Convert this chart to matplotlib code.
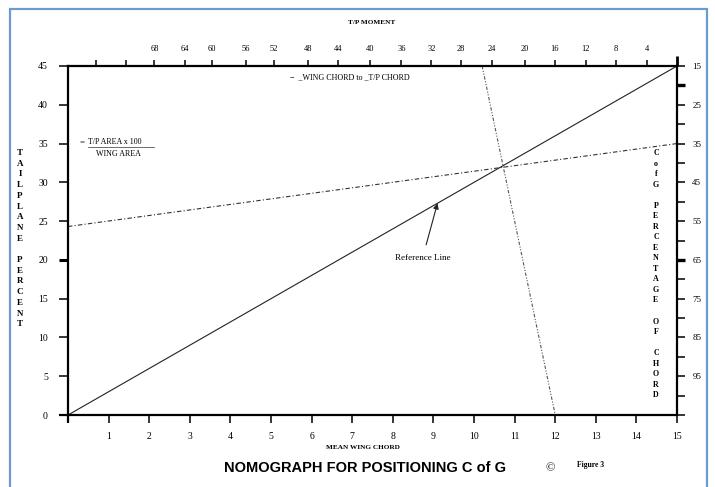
import matplotlib.pyplot as plt
from matplotlib.patches import Rectangle

# chart values
x_ticks = list(range(0, 16))
x_labels = [''] + [str(i) for i in range(1, 16)]
y_ticks = list(range(0, 50, 5))
ref_x = [0, 15]
ref_y = [0, 45]
area_x = [0, 15]
area_y = [24.3, 35.0]
moment_x = [10.2, 12.0]
moment_y = [45, 0]
top_pos = [0.69, 1.42, 2.13, 2.89, 3.55, 4.39, 5.07, 5.91, 6.64, 7.43, 8.21,
           8.95, 9.68, 10.44, 11.25, 11.99, 12.75, 13.50, 14.26, 15.0]
top_labels = ['', '', '68', '64', '60', '56', '52', '48', '44', '40', '36',
              '32', '28', '24', '20', '16', '12', '8', '4', '']
right_ticks = list(range(15, 106, 5))
right_labels = [str(v) if (v - 15) % 10 == 0 and v < 100 else '' for v in right_ticks]

serif = 'Liberation Serif'
sans = 'Liberation Sans'

fig = plt.figure(figsize=(7.15, 4.87), dpi=100)
ax = fig.add_axes([0.0951, 0.1478, 0.8518, 0.7167])
ax.set_xlim(0, 15)
ax.set_ylim(0, 45)

ax.plot(ref_x, ref_y, color='#222222', lw=0.8, clip_on=False)
ax.plot(area_x, area_y, color='#333333', lw=0.8, dashes=(4, 2, 1, 2), clip_on=False)
ax.plot(moment_x, moment_y, color='#555555', lw=0.8, dashes=(3, 1.5, 1, 1.5, 1, 1.5), clip_on=False)

for s in ax.spines.values():
    s.set_linewidth(1.6)
ax.spines['right'].set_visible(False)

ax.set_xticks(x_ticks)
ax.set_xticklabels(x_labels, fontfamily=serif, fontsize=7)
ax.set_yticks(y_ticks)
ax.set_yticklabels([str(v) for v in y_ticks], fontfamily=serif, fontsize=7)
ax.tick_params(axis='x', direction='out', length=5.5, width=1.1, pad=7)
ax.tick_params(axis='y', direction='out', length=6.5, width=1.1, pad=8)
ax.yaxis.get_major_ticks()[4].tick1line.set_markeredgewidth(2.2)
ax.yaxis.get_major_ticks()[0].tick1line.set_markeredgewidth(1.6)
ax.xaxis.get_major_ticks()[0].tick1line.set_markeredgewidth(1.6)

# top T/P moment scale
top = ax.twiny()
top.set_xlim(ax.get_xlim())
top.set_xticks(top_pos)
top.set_xticklabels(top_labels, fontfamily=serif, fontsize=6)
top.tick_params(axis='x', direction='out', length=4.5, width=1.1, pad=5)
top.xaxis.get_major_ticks()[-1].tick2line.set_markeredgewidth(2.0)
top.xaxis.get_major_ticks()[-1].tick2line.set_markersize(7)
for s in top.spines.values():
    s.set_visible(False)

# right C of G scale
right = ax.twinx()
right.set_ylim(105, 15)
right.set_yticks(right_ticks)
right.set_yticklabels(right_labels, fontfamily=serif, fontsize=6.5)
right.tick_params(axis='y', direction='out', length=6, width=1.1, pad=5)
for i, v in enumerate(right_ticks):
    if v in (20, 65):
        right.yaxis.get_major_ticks()[i].tick2line.set_markeredgewidth(2.4)
for k, s in right.spines.items():
    s.set_visible(k == 'right')
right.spines['right'].set_linewidth(1.6)

# annotations
ax.annotate('Reference Line', xy=(9.1, 27.3), xytext=(8.73, 20.2),
            ha='center', va='center', fontfamily=serif, fontsize=6.5,
            arrowprops=dict(arrowstyle='-|>', color='#222222', lw=0.8,
                            shrinkA=5, shrinkB=0, mutation_scale=8))
ax.text(0.29, 35.2, '=', fontfamily=serif, fontsize=6.5, va='center')
ax.text(0.5, 35.2, 'T/P AREA x 100', fontfamily=serif, fontsize=5.8, va='center')
ax.plot([0.5, 2.12], [34.5, 34.5], color='#333333', lw=0.5)
ax.text(1.23, 33.6, 'WING AREA', fontfamily=serif, fontsize=5.8, va='center', ha='center')
ax.text(6.95, 43.6, '\u2212  _WING CHORD to _T/P CHORD', fontfamily=serif, fontsize=5.8,
        va='center', ha='center')

left_letters = list('TAILPLANE') + [' '] + list('PERCENT')
fig.text(0.028, 0.51, '\n'.join(left_letters), fontfamily=serif, fontsize=6.5,
         fontweight='bold', ha='center', va='center', linespacing=1.45)
right_letters = ['C', 'o', 'f', 'G', ' '] + list('PERCENTAGE') + [' ', 'O', 'F', ' '] + list('CHORD')
fig.text(0.9175, 0.437, '\n'.join(right_letters), fontfamily=serif, fontsize=5.8,
         fontweight='bold', ha='center', va='center', linespacing=1.42)

fig.text(0.508, 0.082, 'MEAN WING CHORD', fontfamily=serif, fontsize=5.2,
         fontweight='bold', ha='center', va='center')
fig.text(0.52, 0.953, 'T/P MOMENT', fontfamily=serif, fontsize=5.2,
         fontweight='bold', ha='center', va='center')
fig.text(0.51, 0.039, 'NOMOGRAPH FOR POSITIONING C of G', fontfamily=sans, fontsize=10.5,
         fontweight='bold', ha='center', va='center')
fig.text(0.769, 0.039, '\u00a9', fontfamily=serif, fontsize=9, ha='center', va='center')
fig.text(0.826, 0.045, 'Figure 3', fontfamily=serif, fontsize=5.5, fontweight='bold',
         ha='center', va='center')

# blue frame
fig.patches.append(Rectangle((0.014, -0.05), 0.975, 1.032, transform=fig.transFigure,
                             fill=False, edgecolor='#6c9bd2', lw=1.6))

fig.savefig('out.png', dpi=100)
